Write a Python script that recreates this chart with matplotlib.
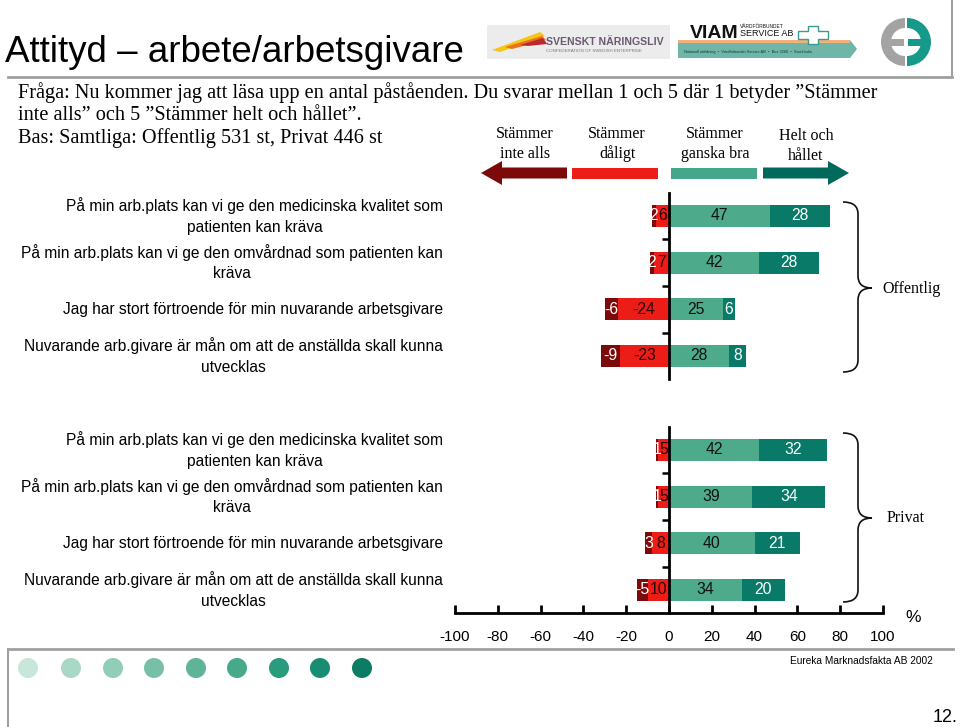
import matplotlib
matplotlib.use("Agg")
import matplotlib.pyplot as plt
from matplotlib.patches import Rectangle, Circle, Polygon, Wedge, PathPatch
from matplotlib.path import Path
import matplotlib.transforms as mtransforms

# data (percent), rows from top to bottom
statements = [
    "På min arb.plats kan vi ge den medicinska kvalitet som\npatienten kan kräva",
    "På min arb.plats kan vi ge den omvårdnad som patienten kan\nkräva",
    "Jag har stort förtroende för min nuvarande arbetsgivare",
    "Nuvarande arb.givare är mån om att de anställda skall kunna\nutvecklas",
]
off_inte_alls = [2, 2, 6, 9]
off_daligt = [6, 7, 24, 23]
off_ganska_bra = [47, 42, 25, 28]
off_helt = [28, 28, 6, 8]

priv_inte_alls = [1, 1, 3, 5]
priv_daligt = [5, 5, 8, 10]
priv_ganska_bra = [42, 39, 40, 34]
priv_helt = [32, 34, 21, 20]

xticks = [-100, -80, -60, -40, -20, 0, 20, 40, 60, 80, 100]
xtick_labels = ["-100", "-80", "-60", "-40", "-20", "0", "20", "40", "60", "80", "100"]

legend_labels = ["Stämmer\ninte alls", "Stämmer\ndåligt", "Stämmer\nganska bra", "Helt och\nhållet"]

c_darkred = "#7d0a0a"
c_red = "#ec1c16"
c_light = "#4daa8b"
c_dark = "#0a7a68"

sans = "Liberation Sans"
serif = "Liberation Serif"

fig = plt.figure(figsize=(9.6, 7.27), dpi=100)

# overlay in pixel coordinates for all the decoration
bg = fig.add_axes([0, 0, 1, 1])
bg.set_xlim(0, 960)
bg.set_ylim(727, 0)
bg.axis("off")

# title and frame lines
bg.text(5, 53, "Attityd – arbete/arbetsgivare", fontsize=26.5, family=sans, va="center", ha="left")
bg.plot([8, 952], [77, 77], color="#a0a0a0", lw=2)
bg.plot([952, 952], [0, 77], color="#a0a0a0", lw=1.5)
bg.plot([8, 953], [649, 649], color="#a0a0a0", lw=2)
bg.plot([8, 8], [649, 727], color="#a0a0a0", lw=1.5)

# question text
qsize = 14.6
bg.text(18, 93, "Fråga: Nu kommer jag att läsa upp en antal påståenden. Du svarar mellan 1 och 5 där 1 betyder ”Stämmer",
        fontsize=qsize, family=serif, va="center")
bg.text(18, 115, "inte alls” och 5 ”Stämmer helt och hållet”.", fontsize=qsize, family=serif, va="center")
bg.text(18, 138, "Bas: Samtliga: Offentlig 531 st, Privat 446 st", fontsize=qsize, family=serif, va="center")

# logos (simplified)
bg.add_patch(Rectangle((487, 25), 183, 34, color="#ececec", lw=0))
bg.add_patch(Polygon([[492, 50], [540, 32], [545, 36], [500, 52]], color="#f5c518", lw=0))
bg.add_patch(Polygon([[505, 47], [542, 36], [546, 40], [512, 49]], color="#e8731a", lw=0))
bg.add_patch(Polygon([[520, 45], [543, 38], [547, 44], [528, 46]], color="#c0262d", lw=0))
bg.text(546, 42, "SVENSKT NÄRINGSLIV", fontsize=7.6, family=sans, weight="bold", color="#6a5a70", va="center")
bg.text(546, 51, "CONFEDERATION OF SWEDISH ENTERPRISE", fontsize=3.2, family=sans, color="#777777", va="center")

bg.add_patch(Polygon([[678, 40], [850, 40], [857, 49], [850, 58], [678, 58]], color="#6fb5a8", lw=0))
bg.add_patch(Rectangle((678, 40), 172, 3, color="#f0b27a", lw=0))
bg.text(690, 33, "VIAM", fontsize=14, family=sans, weight="bold", color="#111111", va="center")
bg.text(740, 27, "VÅRDFÖRBUNDET", fontsize=3.5, family=sans, color="#111111", va="center")
bg.text(740, 34, "SERVICE AB", fontsize=6.5, family=sans, color="#111111", va="center")
bg.text(684, 52, "Nationell ubildning  •  Vårdförbundet Service AB  •  Box 3260  •  Stockholm", fontsize=2.8,
        family=sans, color="#0d3d36", va="center")
bg.add_patch(Polygon([[808, 26], [818, 26], [818, 31], [828, 31], [828, 39], [818, 39], [818, 44], [808, 44],
                      [808, 39], [798, 39], [798, 31], [808, 31]], facecolor="white", edgecolor="#3a9b93", lw=1))

bg.add_patch(Wedge((905, 42), 24, 90, 270, width=10, color="#a3a3a3", lw=0))
bg.add_patch(Rectangle((886, 38.5), 18, 7, color="#a3a3a3", lw=0))
bg.add_patch(Wedge((907, 42), 24, -90, 90, width=10, color="#16998a", lw=0))
bg.add_patch(Rectangle((908, 38.5), 18, 7, color="#16998a", lw=0))

# answer scale legend
bg.add_patch(Polygon([[481, 173], [502, 161], [502, 167.5], [567, 167.5], [567, 178.5], [502, 178.5], [502, 185]],
                     color=c_darkred, lw=0))
bg.add_patch(Rectangle((572, 167.5), 86, 11, color=c_red, lw=0))
bg.add_patch(Rectangle((671, 167.5), 86, 11, color="#45a68a", lw=0))
bg.add_patch(Polygon([[763, 167.5], [828, 167.5], [828, 161], [849, 173], [828, 185], [828, 178.5], [763, 178.5]],
                     color="#00695c", lw=0))
for lx, ly, lab in zip([525, 617, 715, 806], [144, 144, 144, 146], legend_labels):
    bg.text(lx, ly, lab, fontsize=11.5, family=serif, ha="center", va="center", multialignment="center",
            linespacing=1.25)


def brace(x0, ytop, ybot, ymid, xv, xt, r=12):
    verts = [(x0, ytop), (xv, ytop), (xv, ytop + r), (xv, ymid - r), (xv, ymid), (xt, ymid),
             (xv, ymid), (xv, ymid + r), (xv, ybot - r), (xv, ybot), (x0, ybot)]
    codes = [Path.MOVETO, Path.CURVE3, Path.CURVE3, Path.LINETO, Path.CURVE3, Path.CURVE3,
             Path.CURVE3, Path.CURVE3, Path.LINETO, Path.CURVE3, Path.CURVE3]
    bg.add_patch(PathPatch(Path(verts, codes), facecolor="none", edgecolor="#111111", lw=1.2))


brace(843, 202, 372, 288, 858, 872)
bg.text(882, 289, "Offentlig", fontsize=11.5, family=serif, va="center")
brace(843, 433, 602, 518, 858, 872)
bg.text(887, 518, "Privat", fontsize=11.5, family=serif, va="center")

bg.text(905, 617, "%", fontsize=12.5, family=sans, va="center")
bg.text(790, 661, "Eureka Marknadsfakta AB 2002", fontsize=7.3, family=sans, va="center")
bg.text(958, 717, "12.", fontsize=13, family=sans, va="center", ha="right")

# decorative dots
dot_x = [28, 71, 113, 154, 196, 237, 279, 320, 362]
dot_colors = ["#c8e6d9", "#aad8c7", "#92cdb7", "#77c0a7", "#5fb498", "#45a98a", "#2b9b7e", "#198d73", "#0c7c64"]
for dx, dc in zip(dot_x, dot_colors):
    bg.add_patch(Circle((dx, 668), 10, color=dc, lw=0))


def panel(bottom_px, inte, dal, ganska, helt, with_axis):
    ax = fig.add_axes([455 / 960, 1 - bottom_px / 727, 428 / 960, 186.7 / 727])
    ax.patch.set_alpha(0)
    ax.set_xlim(-100, 100)
    ax.set_ylim(3.5, -0.5)
    ys = list(range(len(inte)))
    h = 0.47
    fs = 11.3
    ax.barh(ys, [-v for v in dal], left=0, height=h, color=c_red, lw=0, zorder=2)
    ax.barh(ys, [-v for v in inte], left=[-v for v in dal], height=h, color=c_darkred, lw=0, zorder=2)
    ax.barh(ys, ganska, left=0, height=h, color=c_light, lw=0, zorder=2)
    ax.barh(ys, helt, left=ganska, height=h, color=c_dark, lw=0, zorder=2)
    for y, a, b, c, d in zip(ys, inte, dal, ganska, helt):
        # narrow segments: the minus sign is hidden behind the neighbouring label
        lab_b = f"-{b}" if b >= 15 else f"{b}"
        lab_a = f"-{a}" if a >= 5 else f"{a}"
        ax.text(-b / 2, y, lab_b, ha="center", va="center", fontsize=fs, family=sans, color="#2a0000", zorder=3)
        ax.text(-b - a / 2, y, lab_a, ha="center", va="center", fontsize=fs, family=sans, color="white", zorder=4)
        ax.text(c / 2, y, f"{c}", ha="center", va="center", fontsize=fs, family=sans, color="#111111", zorder=3)
        ax.text(c + d / 2, y, f"{d}", ha="center", va="center", fontsize=fs, family=sans, color="white", zorder=3)

    for s in ["top", "right"]:
        ax.spines[s].set_visible(False)
    ax.spines["left"].set_position(("data", 0))
    ax.spines["left"].set_linewidth(2)
    ax.spines["left"].set_zorder(5)
    ax.set_yticks([])
    # category boundary marks left of the zero line
    ax.hlines([0.5, 1.5, 2.5], -3.2, 0, color="black", lw=1.8, zorder=5)

    if with_axis:
        ax.spines["bottom"].set_linewidth(2)
        ax.set_xticks(xticks)
        ax.set_xticklabels(xtick_labels, fontsize=11, family=sans)
        ax.tick_params(axis="x", direction="in", length=6, width=2, pad=12)
    else:
        ax.spines["bottom"].set_visible(False)
        ax.set_xticks([])

    trans = mtransforms.blended_transform_factory(bg.transData, ax.transData)
    for y, lab in zip(ys, statements):
        ax.text(443, y, lab, transform=trans, ha="right", va="center", multialignment="center",
                fontsize=11.2, family=sans, linespacing=1.45)
    return ax


panel(379.3, off_inte_alls, off_daligt, off_ganska_bra, off_helt, False)
panel(613.3, priv_inte_alls, priv_daligt, priv_ganska_bra, priv_helt, True)

fig.savefig("out.png", dpi=100)
